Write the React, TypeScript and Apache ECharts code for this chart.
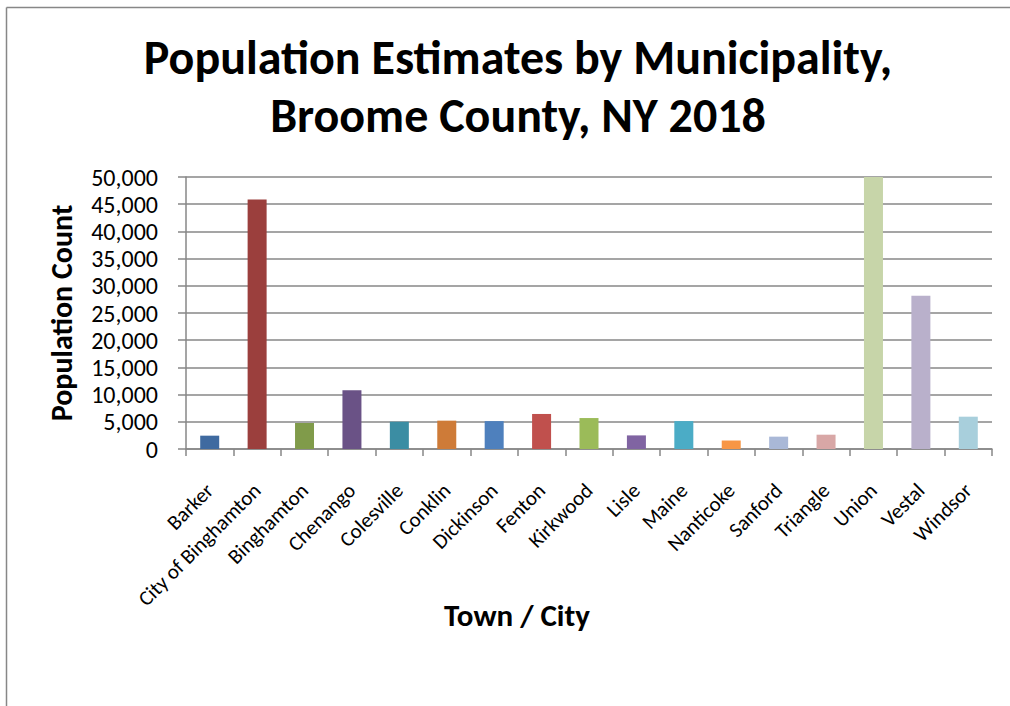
import React, { useEffect, useRef } from "react";
import * as echarts from "echarts";

const categories = [
  "Barker", "City of Binghamton", "Binghamton", "Chenango", "Colesville", "Conklin",
  "Dickinson", "Fenton", "Kirkwood", "Lisle", "Maine", "Nanticoke", "Sanford",
  "Triangle", "Union", "Vestal", "Windsor",
];
const populations = [
  2450, 45850, 4780, 10780, 5020, 5210, 5130, 6440, 5690, 2500, 5130, 1560, 2270,
  2630, 54000, 28190, 5940,
];
const barColors = [
  "#3F6AA0", "#9B3F3D", "#809B4A", "#6A5286", "#3B8DA3", "#CE7B38", "#4E80BD",
  "#C0504D", "#9BBB59", "#8064A2", "#4BACC6", "#F79646", "#A9B8D7", "#D8A7A6",
  "#C7D5A9", "#B9B0CB", "#A8CFDC",
];
const titleLines = ["Population Estimates by Municipality,", "Broome County, NY 2018"];
const yAxisTitle = "Population Count";
const xAxisTitle = "Town / City";

const FONT = "Carlito, Lato, 'Open Sans', sans-serif";
const GRID = "#878787";

export default function App() {
  const ref = useRef<HTMLDivElement>(null);
  useEffect(() => {
    document.body.style.margin = "0";
    const chart = echarts.init(ref.current!, null, { renderer: "svg" });
    chart.setOption({
      animation: false,
      backgroundColor: "#ffffff",
      title: {
        text: titleLines.join("\n"),
        left: 513,
        textAlign: "center",
        top: 23,
        textStyle: {
          fontFamily: FONT,
          fontWeight: "bold",
          fontSize: 48,
          lineHeight: 58,
          color: "#000",
        },
      },
      graphic: [
        { type: "line", shape: { x1: 6.5, y1: 7.5, x2: 1010, y2: 7.5 }, style: { stroke: GRID, lineWidth: 1.5 } },
        { type: "line", shape: { x1: 6.5, y1: 7.5, x2: 6.5, y2: 706 }, style: { stroke: GRID, lineWidth: 1.5 } },
        {
          type: "text",
          x: 517,
          y: 615,
          style: {
            text: xAxisTitle,
            fontFamily: FONT,
            fontWeight: "bold",
            fontSize: 31,
            fill: "#000",
            textAlign: "center",
            textVerticalAlign: "middle",
          },
        },
      ],
      grid: { left: 186, right: 18, top: 177, bottom: 257, containLabel: false },
      xAxis: {
        type: "category",
        data: categories,
        axisLine: { lineStyle: { color: GRID, width: 1.5 } },
        axisTick: { show: true, alignWithLabel: false, length: 7, lineStyle: { color: GRID, width: 1.5 } },
        axisLabel: {
          rotate: 45,
          interval: 0,
          margin: 38,
          fontFamily: FONT,
          fontSize: 21,
          color: "#000",
        },
      },
      yAxis: {
        type: "value",
        min: 0,
        max: 50000,
        interval: 5000,
        name: yAxisTitle,
        nameLocation: "middle",
        nameGap: 110,
        nameTextStyle: { fontFamily: FONT, fontWeight: "bold", fontSize: 30, color: "#000", lineHeight: 30 },
        axisLine: { show: true, lineStyle: { color: GRID, width: 1.5 } },
        axisTick: { show: true, inside: false, length: 8, lineStyle: { color: GRID, width: 1.5 } },
        splitLine: { show: true, lineStyle: { color: GRID, width: 1.5 } },
        axisLabel: {
          margin: 28,
          fontFamily: FONT,
          fontSize: 24,
          lineHeight: 25,
          color: "#000",
          formatter: (v: number) => v.toLocaleString("en-US"),
        },
      },
      series: [
        {
          type: "bar",
          barWidth: 19,
          clip: true,
          data: populations.map((v, i) => ({ value: v, itemStyle: { color: barColors[i] } })),
        },
      ],
    });
    return () => chart.dispose();
  }, []);
  return <div ref={ref} style={{ width: 1010, height: 706 }} />;
}
